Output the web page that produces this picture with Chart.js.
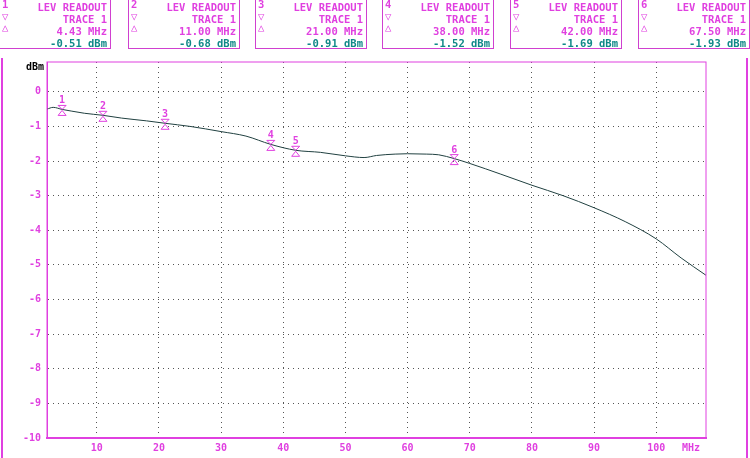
<!DOCTYPE html>
<html>
<head>
<meta charset="utf-8">
<script src="https://cdn.jsdelivr.net/npm/chart.js@4/dist/chart.umd.min.js"></script>
<style>
  body { margin: 0; background: #fff; font-family: "DejaVu Sans Mono", monospace; }
  #wrap { position: relative; width: 750px; height: 458px; overflow: hidden; }
  canvas { position: absolute; left: 0; top: 0; }
  .box { position: absolute; top: -2px; height: 50px; width: 110px; border: 1px solid #d040d0;
    border-top: none; color: #e040e0; font-size: 10.5px; font-weight: bold; line-height: 11.5px; }
  .box .n { position: absolute; left: 2px; top: 1px; }
  .box .t { position: absolute; right: 3px; text-align: right; white-space: pre; }
  .box .v { color: #108888; }
  .side { position: absolute; top: 58px; width: 2px; height: 400px; background: #e040e0; }
</style>
</head>
<body>
<div id="wrap">
  <canvas id="chart" width="750" height="458"></canvas>
  <div class="side" style="left:1px"></div>
  <div class="side" style="left:746px"></div>
</div>
<script>
  // trace 1 (MHz, dBm)
  const freqs = [2, 3, 4.43, 6, 8, 11, 14, 18, 21, 25, 30, 34, 38, 42, 46, 50, 53, 55, 58, 60, 63, 65, 67.5, 70, 75, 80, 85, 90, 95, 100, 104, 108]
  const levels = [-0.5, -0.45, -0.51, -0.56, -0.62, -0.68, -0.76, -0.84, -0.91, -1.0, -1.15, -1.28, -1.52, -1.69, -1.75, -1.85, -1.9, -1.84, -1.8, -1.79, -1.8, -1.82, -1.93, -2.07, -2.38, -2.7, -3.0, -3.35, -3.75, -4.25, -4.8, -5.3]

  const markerFreqs = [4.43, 11.0, 21.0, 38.0, 42.0, 67.5]
  const markerLevels = [-0.51, -0.68, -0.91, -1.52, -1.69, -1.93]

  const xTicks = [10, 20, 30, 40, 50, 60, 70, 80, 90, 100]
  const yTicks = [0, -1, -2, -3, -4, -5, -6, -7, -8, -9, -10]

  const magenta = '#e040e0'

  // readout boxes
  const wrap = document.getElementById('wrap')
  const boxLefts = [0, 128, 255, 382, 510, 638]
  markerFreqs.forEach((f, i) => {
    const d = document.createElement('div')
    d.className = 'box'
    d.style.left = (boxLefts[i] - (i === 0 ? 1 : 0)) + 'px'
    d.innerHTML = `<span class="n">${i + 1}<br>&#9661;<br>&#9651;</span>` +
      `<span class="t" style="top:4px">LEV READOUT</span>` +
      `<span class="t" style="top:16px">TRACE 1</span>` +
      `<span class="t" style="top:28px">${f.toFixed(2)} MHz</span>` +
      `<span class="t v" style="top:40px">${markerLevels[i].toFixed(2)} dBm</span>`
    wrap.appendChild(d)
  })

  const markerPlugin = {
    id: 'markers',
    afterDatasetsDraw(chart) {
      const { ctx, scales: { x, y } } = chart
      ctx.save()
      ctx.strokeStyle = magenta
      ctx.fillStyle = magenta
      ctx.lineWidth = 1
      ctx.font = 'bold 10px "DejaVu Sans Mono"'
      ctx.textAlign = 'center'
      markerFreqs.forEach((f, i) => {
        const px = x.getPixelForValue(f)
        const py = y.getPixelForValue(markerLevels[i])
        ctx.beginPath()
        ctx.moveTo(px - 4, py - 4); ctx.lineTo(px + 4, py - 4); ctx.lineTo(px, py); ctx.closePath()
        ctx.moveTo(px - 4, py + 6); ctx.lineTo(px + 4, py + 6); ctx.lineTo(px, py + 1); ctx.closePath()
        ctx.stroke()
        ctx.fillText(String(i + 1), px, py - 6)
      })
      ctx.fillStyle = '#000'
      ctx.textAlign = 'right'
      ctx.fillText('dBm', 44, 70)
      ctx.fillStyle = magenta
      ctx.textAlign = 'left'
      ctx.fillText('MHz', 682, 451)
      ctx.restore()
    }
  }

  new Chart(document.getElementById('chart'), {
    type: 'line',
    data: {
      datasets: [{
        data: freqs.map((f, i) => ({ x: f, y: levels[i] })),
        borderColor: '#204040',
        borderWidth: 1,
        pointRadius: 0,
        tension: 0.4,
        cubicInterpolationMode: 'monotone'
      }]
    },
    options: {
      responsive: false,
      animation: false,
      layout: { padding: { top: 62, right: 44, left: 0, bottom: 0 } },
      plugins: { legend: { display: false }, tooltip: { enabled: false } },
      scales: {
        x: {
          type: 'linear', min: 2, max: 108,
          afterBuildTicks: s => { s.ticks = xTicks.map(v => ({ value: v })) },
          afterFit: s => { s.height = 20 },
          border: { color: magenta, width: 2, dash: [1, 4] },
          grid: { color: '#555', drawTicks: false },
          ticks: { color: magenta, padding: 4, font: { family: 'DejaVu Sans Mono', size: 10, weight: 'bold' } }
        },
        y: {
          min: -10, max: 0.86,
          afterBuildTicks: s => { s.ticks = yTicks.map(v => ({ value: v })) },
          afterFit: s => { s.width = 47 },
          border: { color: magenta, width: 1, dash: [1, 4] },
          grid: { color: '#555', drawTicks: false },
          ticks: { color: magenta, padding: 6, font: { family: 'DejaVu Sans Mono', size: 10, weight: 'bold' } }
        }
      }
    },
    plugins: [markerPlugin, {
      id: 'frame',
      afterDraw(chart) {
        const { ctx, chartArea: a } = chart
        ctx.save()
        ctx.strokeStyle = magenta
        ctx.lineWidth = 1
        ctx.strokeRect(a.left, a.top, a.right - a.left, a.bottom - a.top)
        ctx.lineWidth = 2
        ctx.beginPath(); ctx.moveTo(a.left, a.bottom); ctx.lineTo(a.right, a.bottom); ctx.stroke()
        ctx.restore()
      }
    }]
  })
</script>
</body>
</html>
